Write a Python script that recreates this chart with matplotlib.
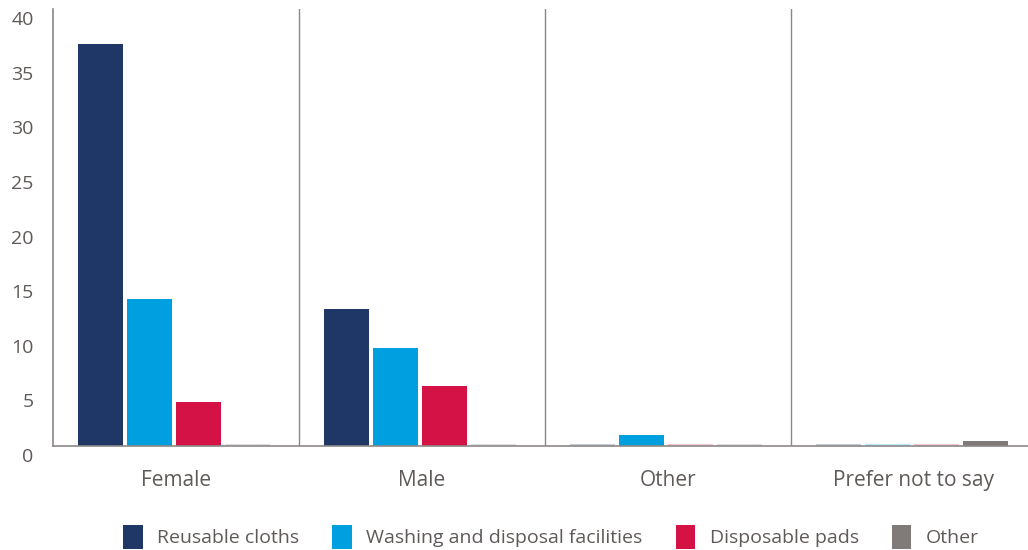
import numpy as np
import matplotlib
matplotlib.use('Agg')
from matplotlib import pyplot as plt
from matplotlib import transforms
from matplotlib.colors import to_rgb

categories = ["Female", "Male", "Other", "Prefer not to say"]
series = ["Reusable cloths", "Washing and disposal facilities", "Disposable pads", "Other"]
reusable = [36.8, 12.5, 0, 0]
washing = [13.5, 9.0, 1.0, 0]
disposable = [4.0, 5.5, 0, 0]
other = [0, 0, 0, 0.5]
values = [reusable, washing, disposable, other]
colors = ["#1f3766", "#009fdf", "#d41245", "#807b78"]
text_col = "#5f5a58"
line_col = "#8c8888"

plt.rcParams['font.family'] = ['Open Sans', 'DejaVu Sans']

fig = plt.figure(figsize=(10.28, 5.5), dpi=100)
ax = fig.add_axes([53 / 1028, 1 - 446 / 550, 1 - 53 / 1028, (446 - 9) / 550])

x = np.arange(len(categories))
step = 0.199
width = 0.183
for i, (name, vals, c) in enumerate(zip(series, values, colors)):
    pos = x + (i - 1.5) * step - 0.008
    ax.bar(pos, vals, width=width, color=c, label=name, zorder=2)
    # empty values show as a faint sliver
    light = tuple(0.75 + 0.25 * v for v in to_rgb(c))
    zero = [p for p, v in zip(pos, vals) if v == 0]
    ax.bar(zero, [0.15] * len(zero), width=width, color=light, zorder=1)

ax.set_xlim(-0.5, 3.465)
ax.set_ylim(0, 40)
ax.set_yticks(range(0, 41, 5))
ax.set_xticks(x)
ax.set_xticklabels(categories, fontsize=15, color=text_col)
for xs in [0.5, 1.5, 2.5]:
    ax.axvline(xs, color=line_col, lw=1, zorder=0)

for s in ["top", "right"]:
    ax.spines[s].set_visible(False)
for s in ["left", "bottom"]:
    ax.spines[s].set_color(line_col)
    ax.spines[s].set_linewidth(1.2)
ax.tick_params(axis="y", length=0, pad=14, labelsize=14, labelcolor=text_col)
ax.tick_params(axis="x", length=0, pad=17)
off = transforms.ScaledTranslation(0, -9 / 100, fig.dpi_scale_trans)
for lab in ax.get_yticklabels():
    lab.set_transform(lab.get_transform() + off)

leg = fig.legend(*ax.get_legend_handles_labels(), loc="center", ncol=4,
                 bbox_to_anchor=(0.536, 1 - 537 / 550), frameon=False,
                 fontsize=14, handlelength=1.0, handleheight=1.5,
                 columnspacing=1.7, handletextpad=0.75, labelcolor=text_col)

fig.savefig("out.png", dpi=100)
